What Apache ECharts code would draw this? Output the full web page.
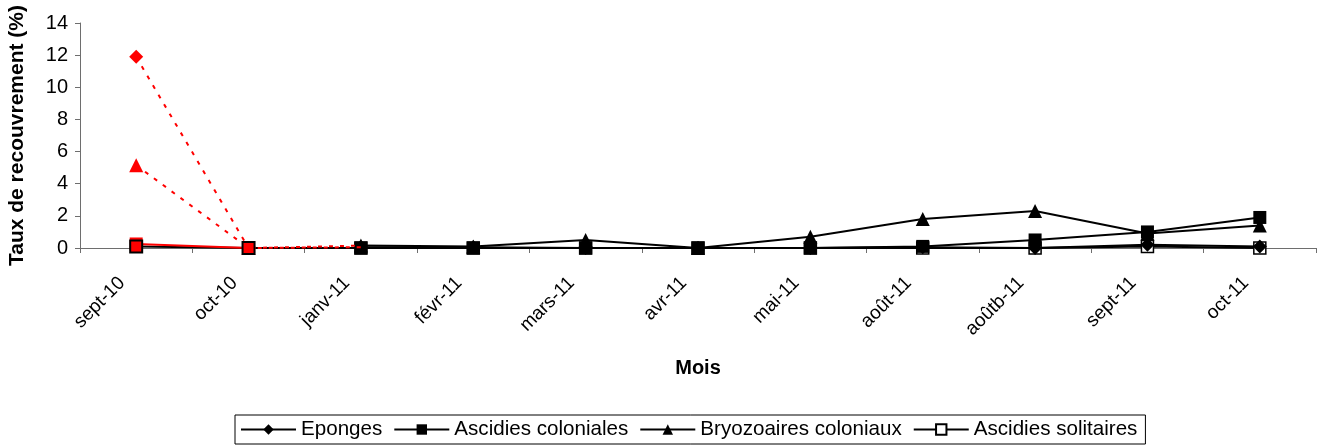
<!DOCTYPE html>
<html>
<head>
<meta charset="utf-8">
<script src="https://cdn.jsdelivr.net/npm/echarts@6/dist/echarts.min.js"></script>
<style>
  html, body { margin: 0; padding: 0; background: #fff; }
  #chart { width: 1322px; height: 447px; }
</style>
</head>
<body>
<div id="chart"></div>
<script>
// Monthly cover rate (%) of fouling groups
var categories = ['sept-10', 'oct-10', 'janv-11', 'févr-11', 'mars-11', 'avr-11', 'mai-11', 'août-11', 'aoûtb-11', 'sept-11', 'oct-11'];
var eponges = [11.9, 0, 0.05, 0.05, 0, 0, 0, 0.05, 0, 0.2, 0.1];
var ascidiesColoniales = [0.25, 0, 0, 0, 0, 0, 0, 0.1, 0.5, 1.0, 1.9];
var bryozoairesColoniaux = [5.15, 0, 0.15, 0.1, 0.5, 0, 0.7, 1.8, 2.3, 0.9, 1.4];
var ascidiesSolitaires = [0.1, 0, 0, 0, 0, 0, 0, 0, 0, 0.1, 0];
var seriesNames = ['Eponges', 'Ascidies coloniales', 'Bryozoaires coloniaux', 'Ascidies solitaires'];

var RED = '#ff0000';
var FONT = 'Liberation Sans, Arial, sans-serif';

// keep values in [from, to], hide markers outside [markFrom, markTo]
function part(values, from, to, markFrom, markTo) {
  return values.map(function (v, i) {
    if (i < from || i > to) return '-';
    if (i < markFrom || i > markTo) return { value: v, symbol: 'none' };
    return v;
  });
}

// first two months drawn in red, the rest in black; z sets stacking order
var defs = [
  { name: seriesNames[0], values: eponges, symbol: 'diamond', size: 14, z: 3, redZ: 9, redLine: 'dotted', redEnd: 2, blackStart: 2,
    redStyle: { color: RED }, blackStyle: { color: '#000' } },
  { name: seriesNames[1], values: ascidiesColoniales, symbol: 'rect', size: 13, z: 4, redZ: 10, redLine: 'solid', redEnd: 1, blackStart: 1,
    redStyle: { color: RED }, blackStyle: { color: '#000' } },
  { name: seriesNames[2], values: bryozoairesColoniaux, symbol: 'triangle', size: 14, z: 5, redZ: 11, redLine: 'dotted', redEnd: 2, blackStart: 2,
    redStyle: { color: RED }, blackStyle: { color: '#000' } },
  { name: seriesNames[3], values: ascidiesSolitaires, symbol: 'rect', size: 12, z: 2, redZ: 14, redLine: null, redEnd: 1, blackStart: 0,
    redStyle: { color: RED, borderColor: '#000', borderWidth: 2 }, blackStyle: { color: '#fff', borderColor: '#000', borderWidth: 1.5 } }
];

var series = [];
defs.forEach(function (d) {
  series.push({
    name: d.name,
    type: 'line',
    data: part(d.values, d.blackStart, d.values.length - 1, 2, d.values.length - 1),
    symbol: d.symbol,
    symbolSize: d.size,
    showAllSymbol: true,
    itemStyle: d.blackStyle,
    lineStyle: { color: '#000', width: 2 },
    z: d.z,
    animation: false
  });
  series.push({
    name: d.name + ' ',
    type: 'line',
    data: part(d.values, 0, d.redEnd, 0, 1),
    symbol: d.symbol,
    symbolSize: d.size,
    showAllSymbol: true,
    itemStyle: d.redStyle,
    lineStyle: d.redLine
      ? { color: RED, width: 2, type: d.redLine === 'dotted' ? [4, 7] : 'solid' }
      : { width: 0, opacity: 0 },
    z: d.redZ,
    animation: false
  });
});

var chart = echarts.init(document.getElementById('chart'), null, { renderer: 'canvas' });
chart.setOption({
  backgroundColor: '#fff',
  textStyle: { fontFamily: FONT },
  grid: { left: 80, right: 6, top: 23, bottom: 199, containLabel: false, outerBoundsMode: 'none' },
  legend: {
    data: seriesNames,
    left: 235,
    top: 415,
    orient: 'horizontal',
    itemWidth: 55,
    itemHeight: 13,
    itemGap: 11,
    padding: [4, 8, 4, 5],
    borderColor: '#000',
    borderWidth: 1,
    borderRadius: 0,
    textStyle: { fontFamily: FONT, fontSize: 20.6, color: '#000' }
  },
  xAxis: {
    type: 'category',
    data: categories,
    boundaryGap: true,
    name: 'Mois',
    nameLocation: 'middle',
    nameGap: 110,
    nameMoveOverlap: false,
    nameTextStyle: { fontFamily: FONT, fontSize: 20, fontWeight: 'bold', color: '#000' },
    axisLine: { lineStyle: { color: '#6e6e6e', width: 1 } },
    axisTick: { show: true, length: 5, inside: false, lineStyle: { color: '#6e6e6e' } },
    axisLabel: {
      interval: 0,
      rotate: 45,
      margin: 18,
      padding: [0, 20, 0, 0],
      fontFamily: FONT,
      fontSize: 19,
      color: '#000'
    },
    splitLine: { show: false }
  },
  yAxis: {
    type: 'value',
    min: 0,
    max: 14,
    interval: 2,
    name: 'Taux de recouvrement (%)',
    nameLocation: 'middle',
    nameGap: 52,
    nameMoveOverlap: false,
    nameTextStyle: { fontFamily: FONT, fontSize: 21, fontWeight: 'bold', color: '#000' },
    axisLine: { show: true, lineStyle: { color: '#6e6e6e', width: 1 } },
    axisTick: { show: true, length: 5, lineStyle: { color: '#6e6e6e' } },
    axisLabel: { margin: 12, fontFamily: FONT, fontSize: 20, color: '#000' },
    splitLine: { show: false }
  },
  series: series
});
</script>
</body>
</html>
